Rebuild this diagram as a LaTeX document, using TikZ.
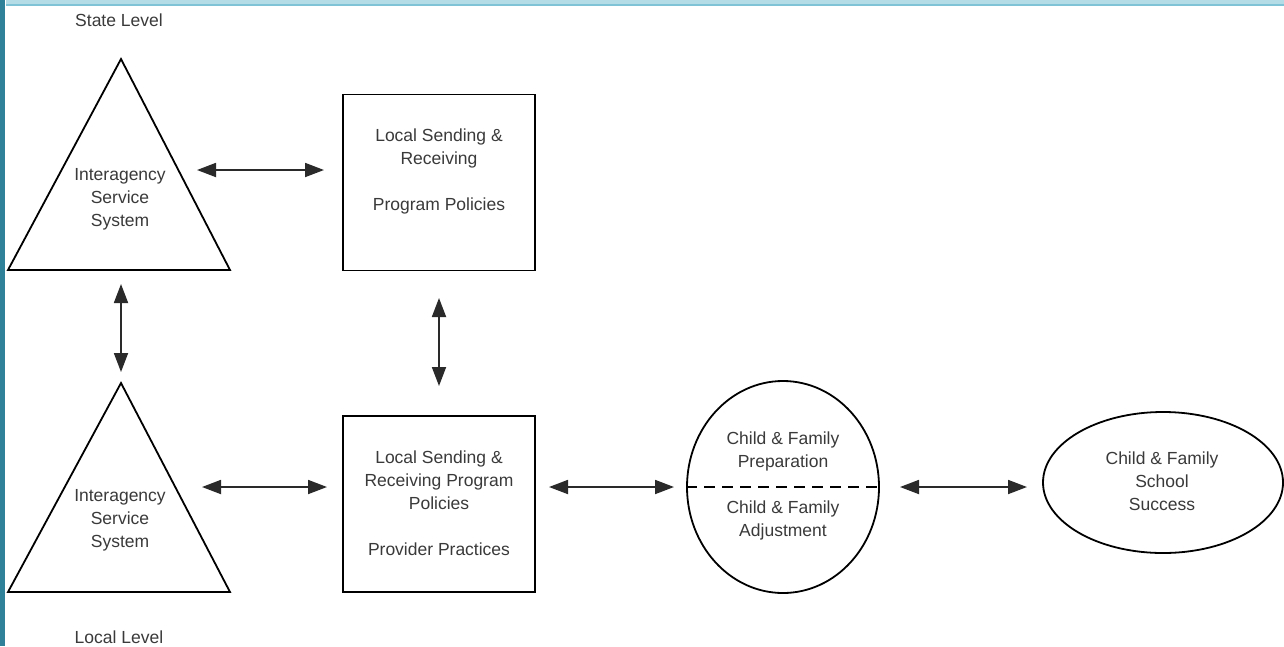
\documentclass[tikz,border=0pt]{standalone}
\usepackage{fontspec}
\setmainfont{Liberation Sans}
\usetikzlibrary{arrows.meta,shapes.geometric}
\definecolor{txt}{HTML}{3A3A3A}
\definecolor{shaft}{HTML}{2A2A2A}
\definecolor{tealbar}{HTML}{2E8199}
\definecolor{topbar}{HTML}{B3DCE6}
\definecolor{topedge}{HTML}{7EC3D6}
\tikzset{
  lbl/.style={text=txt,font=\fontsize{17.5}{23}\selectfont,align=center,inner sep=0pt},
  outl/.style={draw=black,line width=1.8pt},
  boxnode/.style={outl,rectangle,minimum width=192pt,minimum height=176pt,inner sep=0pt},
  link/.style={draw=shaft,line width=1.8pt,{Triangle[length=19pt,width=14pt]}-{Triangle[length=19pt,width=14pt]}},
}
\begin{document}
\begin{tikzpicture}[x=1pt,y=-1pt]
\useasboundingbox (0,0) rectangle (1284,646);
\fill[white] (0,0) rectangle (1284,646);
% frame bars
\fill[tealbar] (0,0) rectangle (5,646);
\fill[topbar] (6,0) rectangle (1284,4);
\fill[topedge] (6,4) rectangle (1284,5.5);

% level labels
\node[lbl] (state) at (119,20) {State Level};
\node[lbl] (local) at (119,637) {Local Level};

% triangles
\draw[outl,line join=miter] (121,59) -- (230,270) -- (8,270) -- cycle;
\node[lbl] (tri1) at (120,199) {Interagency\\Service\\System};
\draw[outl,line join=miter] (121,383) -- (230,592) -- (8,592) -- cycle;
\node[lbl] (tri2) at (120,520) {Interagency\\Service\\System};

% boxes
\node[boxnode] (box1) at (439,182.5) {};
\node[lbl] (box1t) at (439,171) {Local Sending \&\\Receiving\\[23pt]Program Policies};
\node[boxnode] (box2) at (439,504) {};
\node[lbl] (box2t) at (439,503.5) {Local Sending \&\\Receiving Program\\Policies\\[23pt]Provider Practices};

% circle-like ellipse
\node[outl,ellipse,minimum width=192pt,minimum height=212pt,inner sep=0pt] (circ) at (783,487) {};
\draw[outl,line width=1.6pt,dash pattern=on 11pt off 7pt] (circ.west) -- (circ.east);
\node[lbl] (prep) at (783,451) {Child \& Family\\Preparation};
\node[lbl] (adj) at (783,520.5) {Child \& Family\\Adjustment};

% right ellipse
\node[outl,ellipse,minimum width=240pt,minimum height=141pt,inner sep=0pt] (ell) at (1163,482.5) {};
\node[lbl] (succ) at (1162,481) {Child \& Family\\School\\Success};

% connector end points
\coordinate (a1) at (197,170); \coordinate (a2) at (324,170);
\coordinate (b1) at (121,284); \coordinate (b2) at (121,372);
\coordinate (c1) at (439,298); \coordinate (c2) at (439,386);
\coordinate (d1) at (202,487); \coordinate (d2) at (327,487);
\coordinate (e1) at (549,487); \coordinate (e2) at (674,487);
\coordinate (f1) at (900,487); \coordinate (f2) at (1027,487);

\draw[link] (a1) -- (a2);
\draw[link] (b1) -- (b2);
\draw[link] (c1) -- (c2);
\draw[link] (d1) -- (d2);
\draw[link] (e1) -- (e2);
\draw[link] (f1) -- (f2);
\end{tikzpicture}
\end{document}
